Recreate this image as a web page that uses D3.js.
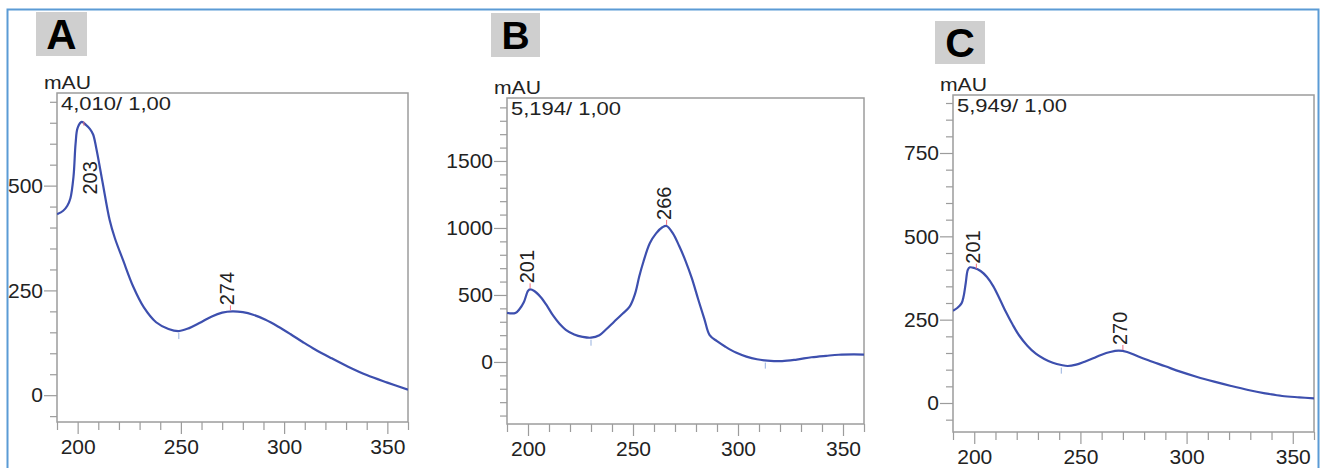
<!DOCTYPE html>
<html>
<head>
<meta charset="utf-8">
<script src="https://cdnjs.cloudflare.com/ajax/libs/d3/7.8.5/d3.min.js"></script>
<style>
  body { margin: 0; background: #fff; }
  svg { display: block; font-family: "Liberation Sans", Arial, sans-serif; }
</style>
</head>
<body>
<svg id="chart" width="1325" height="468"></svg>
<script>
// ---- data ----
const panelLetters = ["A", "B", "C"];
const sampleLabels = ["4,010/ 1,00", "5,194/ 1,00", "5,949/ 1,00"];
const xDomain = [190, 360];
const xTicks = [200, 250, 300, 350];

const wavelengthA = [190, 193, 195, 196.5, 198, 199, 200, 202, 204, 206, 207.5, 209, 212, 215.5, 218, 222, 227, 232, 238, 244, 249, 254, 259, 265, 270, 275, 280, 285, 291, 297, 303, 309, 315, 323, 331, 340, 350, 360];
const absorbanceA = [432, 440, 452, 470, 522, 600, 638, 652, 645, 635, 622, 590, 510, 418, 375, 322, 258, 210, 174, 158, 153, 160, 172, 188, 197, 200, 198, 192, 180, 164, 146, 127, 109, 88, 68, 48, 30, 13];
const peaksA = [203, 274];
const peakValuesA = [648, 200];
const valleysA = [249];
const valleyValuesA = [153];
const yDomainA = [-64, 721];
const yTicksA = [0, 250, 500];

const wavelengthB = [190, 194, 196, 198, 200, 201, 203, 206, 209, 212, 215, 218, 222, 226, 230, 234, 237, 241, 245, 248.4, 251, 253, 255, 258, 261, 264, 266, 269, 272, 275, 278, 281, 284, 286.5, 290, 294, 299, 304, 309, 314, 321, 328, 335, 342, 348, 355, 360];
const absorbanceB = [366, 366, 395, 445, 530, 542, 530, 485, 420, 345, 285, 240, 205, 187, 181, 200, 240, 300, 360, 413, 510, 640, 750, 886, 960, 1005, 1015, 960, 865, 755, 625, 470, 320, 200, 155, 114, 70, 40, 20, 10, 6, 18, 35, 46, 54, 56, 55];
const peaksB = [201, 266];
const peakValuesB = [542, 1015];
const valleysB = [230, 313];
const valleyValuesB = [181, 10];
const yDomainB = [-463, 1970];
const yTicksB = [0, 500, 1000, 1500];

const wavelengthC = [190, 192, 194, 195, 196, 197, 198, 200, 203, 206, 209, 212, 215, 218, 221, 225, 229, 233, 237, 241, 244, 248, 252, 256, 260, 264, 268, 272, 277, 282, 290, 297, 305, 313, 321, 329, 337, 345, 353, 360];
const absorbanceC = [277, 285, 299, 320, 360, 400, 407, 405, 396, 378, 350, 312, 272, 236, 204, 172, 148, 132, 121, 114, 111, 115, 124, 134, 145, 153, 157, 153, 140, 128, 110, 94, 78, 64, 51, 39, 29, 21, 17, 14];
const peaksC = [201, 270];
const peakValuesC = [400, 156];
const valleysC = [241];
const valleyValuesC = [112];
const yDomainC = [-87, 924];
const yTicksC = [0, 250, 500, 750];

// ---- layout ----
const panels = [
  { letter: panelLetters[0], sample: sampleLabels[0], wl: wavelengthA, ab: absorbanceA,
    peaks: peaksA, peakVals: peakValuesA, valleys: valleysA, valleyVals: valleyValuesA,
    yDomain: yDomainA, yTicks: yTicksA, yMinorStep: 50,
    frame: { l: 57, t: 93, r: 408, b: 422 }, box: { x: 36, y: 12, w: 51, h: 44, fs: 42 } },
  { letter: panelLetters[1], sample: sampleLabels[1], wl: wavelengthB, ab: absorbanceB,
    peaks: peaksB, peakVals: peakValuesB, valleys: valleysB, valleyVals: valleyValuesB,
    yDomain: yDomainB, yTicks: yTicksB, yMinorStep: 100,
    frame: { l: 507, t: 98, r: 864, b: 424 }, box: { x: 491, y: 13, w: 49, h: 44, fs: 39 } },
  { letter: panelLetters[2], sample: sampleLabels[2], wl: wavelengthC, ab: absorbanceC,
    peaks: peaksC, peakVals: peakValuesC, valleys: valleysC, valleyVals: valleyValuesC,
    yDomain: yDomainC, yTicks: yTicksC, yMinorStep: 50,
    frame: { l: 953, t: 95, r: 1314, b: 432 }, box: { x: 935, y: 21, w: 50, h: 43, fs: 41 } }
];

const svg = d3.select("#chart");
const gray = "#9c9c9c";
const lineColor = "#3d4fae";
const tickFont = "21px";

// outer blue frame
svg.append("rect")
  .attr("x", 7.5).attr("y", 9.5)
  .attr("width", 1311).attr("height", 480)
  .attr("fill", "none")
  .attr("stroke", "#5b9bd5")
  .attr("stroke-width", 2);

panels.forEach((p, i) => {
  const f = p.frame;
  const x = d3.scaleLinear().domain(xDomain).range([f.l, f.r]);
  const y = d3.scaleLinear().domain(p.yDomain).range([f.b, f.t]);

  // panel letter box
  svg.append("rect")
    .attr("x", p.box.x).attr("y", p.box.y)
    .attr("width", p.box.w).attr("height", p.box.h)
    .attr("fill", "#cfcfcf");
  svg.append("text")
    .attr("x", p.box.x + p.box.w / 2)
    .attr("y", p.box.y + p.box.h / 2 + p.box.fs * 0.36)
    .attr("text-anchor", "middle")
    .style("font-size", p.box.fs + "px")
    .style("font-weight", "bold")
    .attr("fill", "#000")
    .text(p.letter);

  // y axis: minor then major
  const yMinor = d3.range(Math.ceil(p.yDomain[0] / p.yMinorStep) * p.yMinorStep, p.yDomain[1], p.yMinorStep)
    .filter(v => !p.yTicks.includes(v));
  svg.append("g")
    .attr("transform", `translate(${f.l},0)`)
    .call(d3.axisLeft(y).tickValues(yMinor).tickSize(7).tickFormat(""))
    .call(g => g.select(".domain").remove())
    .call(g => g.selectAll("line").attr("stroke", gray).attr("stroke-width", 1.2));
  svg.append("g")
    .attr("transform", `translate(${f.l},0)`)
    .call(d3.axisLeft(y).tickValues(p.yTicks).tickSize(13).tickPadding(1).tickFormat(d3.format("d")))
    .call(g => g.select(".domain").remove())
    .call(g => g.selectAll("line").attr("stroke", gray).attr("stroke-width", 1.2))
    .call(g => g.selectAll("text")
      .attr("fill", "#222")
      .style("font-size", tickFont)
      .style("font-family", "'Liberation Sans', Arial, sans-serif"));

  // x axis
  const xMinor = d3.range(190, 361, 10).filter(v => !xTicks.includes(v));
  svg.append("g")
    .attr("transform", `translate(0,${f.b})`)
    .call(d3.axisBottom(x).tickValues(xMinor).tickSize(8).tickFormat(""))
    .call(g => g.select(".domain").remove())
    .call(g => g.selectAll("line").attr("stroke", gray).attr("stroke-width", 1.2));
  svg.append("g")
    .attr("transform", `translate(0,${f.b})`)
    .call(d3.axisBottom(x).tickValues(xTicks).tickSize(12).tickPadding(5).tickFormat(d3.format("d")))
    .call(g => g.select(".domain").remove())
    .call(g => g.selectAll("line").attr("stroke", gray).attr("stroke-width", 1.2))
    .call(g => g.selectAll("text")
      .attr("fill", "#222")
      .style("font-size", tickFont)
      .style("font-family", "'Liberation Sans', Arial, sans-serif"));

  // plot frame
  svg.append("rect")
    .attr("x", f.l).attr("y", f.t)
    .attr("width", f.r - f.l).attr("height", f.b - f.t)
    .attr("fill", "none")
    .attr("stroke", gray)
    .attr("stroke-width", 1.5);

  // axis unit and sample labels
  svg.append("text")
    .attr("x", f.l - 13).attr("y", f.t - 4)
    .attr("textLength", 47).attr("lengthAdjust", "spacingAndGlyphs")
    .style("font-size", "18px")
    .attr("fill", "#222")
    .text("mAU");
  svg.append("text")
    .attr("x", f.l + 4).attr("y", f.t + 17)
    .attr("textLength", 110).attr("lengthAdjust", "spacingAndGlyphs")
    .style("font-size", "18px")
    .attr("fill", "#222")
    .text(p.sample);

  // spectrum
  const clipId = "clip" + i;
  svg.append("clipPath").attr("id", clipId)
    .append("rect")
    .attr("x", f.l).attr("y", f.t)
    .attr("width", f.r - f.l).attr("height", f.b - f.t);

  const pts = p.wl.map((w, k) => [w, p.ab[k]]);
  const line = d3.line()
    .x(d => x(d[0]))
    .y(d => y(d[1]))
    .curve(d3.curveCatmullRom.alpha(0.5));
  svg.append("path")
    .datum(pts)
    .attr("clip-path", `url(#${clipId})`)
    .attr("d", line)
    .attr("fill", "none")
    .attr("stroke", lineColor)
    .attr("stroke-width", 2.2);

  // valley marks
  p.valleys.forEach((v, k) => {
    svg.append("line")
      .attr("x1", x(v)).attr("x2", x(v))
      .attr("y1", y(p.valleyVals[k]) + 2)
      .attr("y2", y(p.valleyVals[k]) + 8)
      .attr("stroke", "#7f9fd8")
      .attr("stroke-width", 1)
      .attr("opacity", 0.8);
  });

  // peak marks and labels
  p.peaks.forEach((pk, k) => {
    const px = x(pk), py = y(p.peakVals[k]);
    let lx = px + 4, ly = py - 6;
    let t1 = py - 6, t2 = py - 1;
    if (ly - 34 < f.t) { // no room above the peak, put it inside the band
      lx = px + 13;
      ly = py + 71;
      t1 = py - 2; t2 = py + 2;
    }
    svg.append("line")
      .attr("x1", px).attr("x2", px)
      .attr("y1", t1).attr("y2", t2)
      .attr("stroke", "#f07080")
      .attr("stroke-width", 1);
    svg.append("text")
      .attr("transform", `translate(${lx},${ly}) rotate(-90)`)
      .attr("text-anchor", "start")
      .style("font-size", "20px")
      .attr("fill", "#222")
      .text(pk);
  });
});
</script>
</body>
</html>
